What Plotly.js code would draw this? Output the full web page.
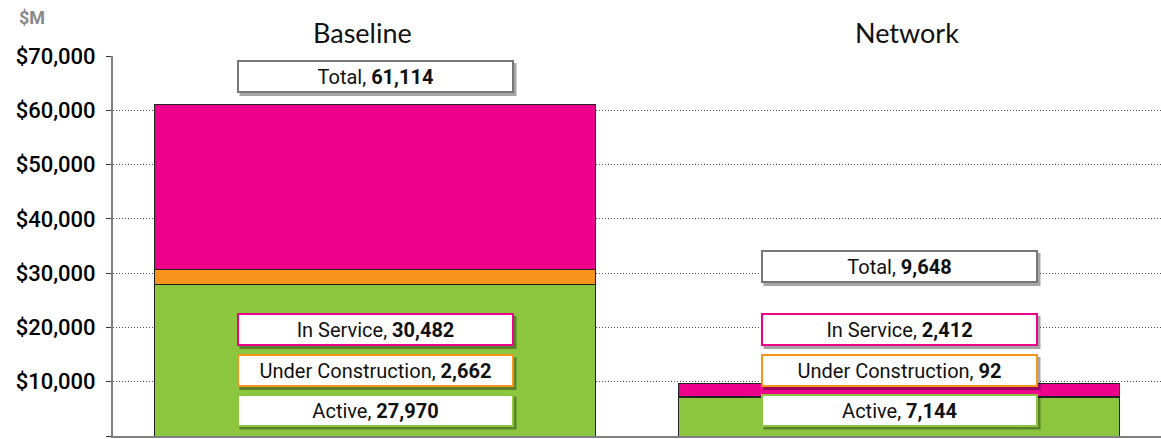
<!DOCTYPE html>
<html>
<head>
<meta charset="utf-8">
<script src="https://cdn.plot.ly/plotly-3.0.1.min.js"></script>
<style>html,body{margin:0;padding:0;background:#fff;}#chart{width:1161px;height:439px;}</style>
</head>
<body>
<div id="chart"></div>
<script>
const categories = ['Baseline', 'Network'];
const seriesNames = ['Active', 'Under Construction', 'In Service'];
const active = [27970, 7144];
const underConstruction = [2662, 92];
const inService = [30482, 2412];
const totals = [61114, 9648];
const tickValues = [0, 10000, 20000, 30000, 40000, 50000, 60000, 70000];
const tickLabels = ['0', '$10,000', '$20,000', '$30,000', '$40,000', '$50,000', '$60,000', '$70,000'];
const unitLabel = '$M';

const colors = {active: '#8CC63F', uc: '#F7941D', is: '#EC008C'};
const boxFont = 'Roboto, sans-serif';
const fmt = v => v.toLocaleString('en-US');

const seriesData = [active, underConstruction, inService];
const seriesColors = [colors.active, colors.uc, colors.is];

const traces = seriesData.map((vals, i) => ({
  type: 'bar',
  name: seriesNames[i],
  x: categories,
  y: vals,
  marker: {color: seriesColors[i], line: {color: '#222', width: 1}},
  hoverinfo: 'x+y+name'
}));

// label box layout (style/position constants)
const boxY = {'In Service': 0.2803, 'Under Construction': 0.1724, 'Active': 0.0684};
const totalY = [0.946, 0.446];
const boxW = 273, boxH = 29;

const annotations = [];
const shapes = [];
function addBox(ci, y, text, border) {
  const ow = boxW + 4, oh = boxH + 4;
  shapes.push({
    type: 'rect', layer: 'above',
    xref: 'x', xsizemode: 'pixel', xanchor: ci, x0: -ow / 2 + 3, x1: ow / 2 + 3,
    yref: 'paper', ysizemode: 'pixel', yanchor: y, y0: -oh / 2 - 3, y1: oh / 2 - 3,
    fillcolor: 'rgba(0,0,0,0.35)', line: {width: 0}
  });
  annotations.push({
    xref: 'x', yref: 'paper', x: ci, y: y, xanchor: 'center', yanchor: 'middle',
    text: text, showarrow: false, width: boxW, height: boxH,
    bgcolor: '#ffffff', borderwidth: 2, bordercolor: border, borderpad: 0,
    font: {family: boxFont, size: 20, color: '#111'}
  });
}
categories.forEach((cat, ci) => {
  addBox(ci, totalY[ci], 'Total, <b>' + fmt(totals[ci]) + '</b>', '#777777');
  addBox(ci, boxY['In Service'], 'In Service, <b>' + fmt(inService[ci]) + '</b>', colors.is);
  addBox(ci, boxY['Under Construction'], 'Under Construction, <b>' + fmt(underConstruction[ci]) + '</b>', colors.uc);
  addBox(ci, boxY['Active'], 'Active, <b>' + fmt(active[ci]) + '</b>', colors.active);
});

const titleX = [0.238, 0.758];
categories.forEach((cat, ci) => {
  annotations.push({
    xref: 'paper', yref: 'paper', x: titleX[ci], y: 1.063, xanchor: 'center', yanchor: 'middle',
    text: cat, showarrow: false, font: {family: 'Lato, Open Sans, sans-serif', size: 27, color: '#111'}
  });
});
annotations.push({
  xref: 'paper', yref: 'paper', x: -0.0773, y: 1.1, xanchor: 'center', yanchor: 'middle',
  text: '<b>' + unitLabel + '</b>', showarrow: false, font: {family: 'Roboto, sans-serif', size: 18, color: '#8a8a8a'}
});

const layout = {
  width: 1161, height: 439,
  margin: {l: 113, r: 0, t: 56, b: 3, pad: 0},
  paper_bgcolor: '#fff', plot_bgcolor: '#fff',
  barmode: 'stack', bargap: 0.158,
  showlegend: false,
  xaxis: {
    type: 'category', showticklabels: false, ticks: '', showgrid: false, zeroline: false,
    showline: true, linecolor: '#808080', linewidth: 2
  },
  yaxis: {
    range: [0, 70000], tickvals: tickValues, ticktext: tickLabels,
    ticks: 'outside', ticklen: 5, tickcolor: '#333', tickwidth: 1,
    showline: true, linecolor: '#808080', linewidth: 2,
    showgrid: true, gridcolor: '#555', griddash: '1px,2px', gridwidth: 1,
    zeroline: false, ticklabelstandoff: 6,
    tickfont: {family: 'Roboto, sans-serif', size: 22, color: '#000', weight: 500}
  },
  shapes: shapes,
  annotations: annotations
};

Plotly.newPlot('chart', traces, layout, {displayModeBar: false, staticPlot: true});
</script>
</body>
</html>
